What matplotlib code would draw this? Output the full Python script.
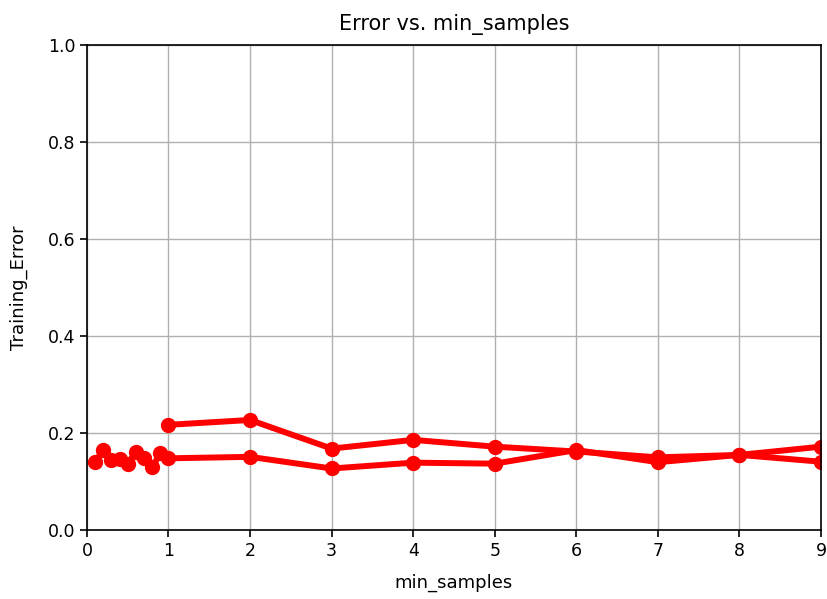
import matplotlib
matplotlib.use("Agg")
import matplotlib.pyplot as plt

# min_samples given as fraction and as integer count
frac_samples = [0.1, 0.2, 0.3, 0.4, 0.5, 0.6, 0.7, 0.8, 0.9, 1, 2, 3, 4, 5, 6, 7, 8, 9]
frac_error = [0.141, 0.165, 0.144, 0.146, 0.137, 0.161, 0.148, 0.130, 0.158,
              0.148, 0.151, 0.127, 0.139, 0.137, 0.165, 0.140, 0.155, 0.172]
int_samples = [1, 2, 3, 4, 5, 6, 7, 8, 9]
int_error = [0.217, 0.227, 0.168, 0.186, 0.172, 0.162, 0.150, 0.155, 0.141]

x_ticks = [0, 1, 2, 3, 4, 5, 6, 7, 8, 9]
y_ticks = [0.0, 0.2, 0.4, 0.6, 0.8, 1.0]

plt.rcParams['font.family'] = ['DejaVu Sans']
fig = plt.figure(figsize=(8.28, 5.99), dpi=100)
ax = fig.add_axes([0.105, 0.115, 0.8865, 0.81])

ax.plot(frac_samples, frac_error, color='red', marker='o', lw=4.3, markersize=10)
ax.plot(int_samples, int_error, color='red', marker='o', lw=4.3, markersize=10)

ax.set_xlim(0, 9)
ax.set_ylim(0, 1)
ax.set_xticks(x_ticks)
ax.set_yticks(y_ticks)
ax.set_yticklabels(['%.1f' % v for v in y_ticks])
ax.tick_params(labelsize=12.5, length=5, width=1.2)
ax.grid(True, color='#b0b0b0', lw=1)
for s in ax.spines.values():
    s.set_linewidth(1.2)

ax.set_title('Error vs. min_samples', fontsize=15, pad=11)
ax.set_xlabel('min_samples', fontsize=13, labelpad=10)
ax.set_ylabel('Training_Error', fontsize=13, labelpad=14)

plt.savefig('out.png')
